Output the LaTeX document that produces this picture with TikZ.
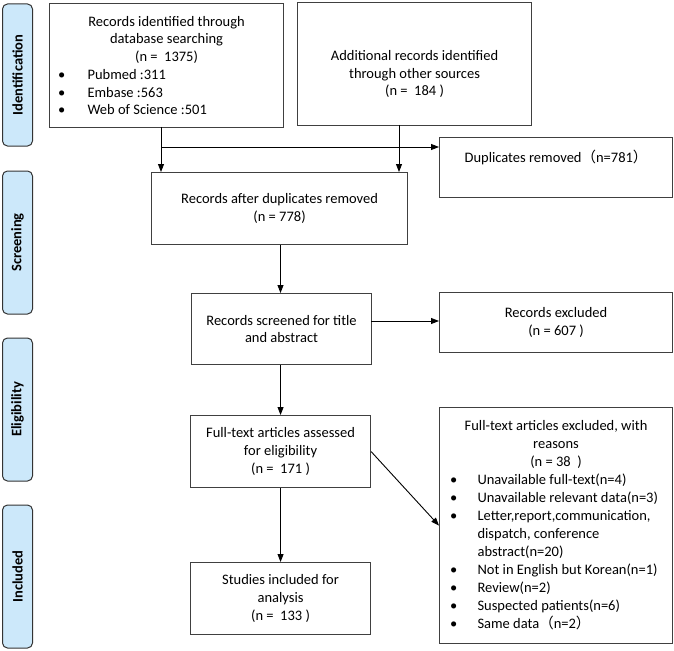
\documentclass[tikz,border=0pt]{standalone}
\usepackage{fontspec}
\setmainfont{Carlito}
\newfontfamily\cjk{Noto Sans CJK SC}
\usetikzlibrary{arrows.meta}
\newcommand\bul[3]{\makebox[#1][l]{\hspace*{#2}\makebox[\dimexpr38pt-#2\relax][l]{•}#3}}
\newcommand\cont[2]{\makebox[#1][l]{\hspace*{38pt}#2}}
\begin{document}
\begin{tikzpicture}[x=1pt,y=-1pt,
  every node/.style={font=\fontsize{14.5}{17.7}\selectfont},
  box/.style={draw=black!75, line width=1.1pt, inner sep=0pt, align=center, anchor=north west},
  side/.style={draw=black!80, line width=1pt, fill=cyan!12!blue!8!white, fill={rgb,255:red,204;green,232;blue,250}, rounded corners=5pt, rotate=90, minimum height=30pt, inner sep=0pt, font=\fontsize{14.5}{17.7}\selectfont\bfseries},
  arr/.style={draw=black, line width=0.9pt, -{Triangle[length=8pt,width=6pt]}}]
\useasboundingbox (0,0) rectangle (674,650);

% side labels
\node[side, minimum width=142pt] (sid) at (17.5,75) {Identification};
\node[side, minimum width=143pt] (sscr) at (17.5,242.5) {Screening};
\node[side, minimum width=143pt] (seli) at (17.5,409.5) {Eligibility};
\node[side, minimum width=143pt] (sinc) at (17.5,576.5) {Included};

% boxes
\node[box, minimum width=234pt, minimum height=124pt] (A) at (49,3)
 {Records identified through\\database searching\\(n =~ 1375)\\
  \bul{234pt}{8.5pt}{Pubmed :311}\\
  \bul{234pt}{8.5pt}{Embase :563}\\
  \bul{234pt}{8.5pt}{Web of Science :501}};
\node[box, minimum width=234pt, minimum height=123pt] (B) at (297,2)
 {\strut\\Additional records identified\\through other sources\\(n =~ 184 )};
\node[box, minimum width=233pt, minimum height=60pt] (dup) at (439,137)
 {Duplicates removed{\cjk （}n=781{\cjk ）}\\\strut};
\node[box, minimum width=256pt, minimum height=72pt] (after) at (151,172)
 {Records after duplicates removed\\(n = 778)};
\node[box, minimum width=180pt, minimum height=71pt] (scr) at (191,293)
 {Records screened for title\\and abstract};
\node[box, minimum width=233pt, minimum height=60pt] (excl) at (439,292)
 {Records excluded\\(n = 607 )};
\node[box, minimum width=180pt, minimum height=72pt] (full) at (190,415)
 {Full-text articles assessed\\for eligibility\\(n =~ 171 )};
\node[box, minimum width=233pt, minimum height=236pt, font=\fontsize{14.5}{18}\selectfont] (big) at (439,407)
 {Full-text articles excluded, with\\reasons\\(n = 38~ )\\
  \bul{233pt}{10.5pt}{Unavailable full-text(n=4)}\\
  \bul{233pt}{10.5pt}{Unavailable relevant data(n=3)}\\
  \bul{233pt}{10.5pt}{Letter,report,communication,}\\
  \cont{233pt}{dispatch, conference}\\
  \cont{233pt}{abstract(n=20)}\\
  \bul{233pt}{10.5pt}{Not in English but Korean(n=1)}\\
  \bul{233pt}{10.5pt}{Review(n=2)}\\
  \bul{233pt}{10.5pt}{Suspected patients(n=6)}\\
  \bul{233pt}{10.5pt}{Same data{\cjk （}n=2{\cjk ）}}};
\node[box, minimum width=180pt, minimum height=72pt] (stud) at (190,562)
 {Studies included for\\analysis\\(n =~ 133 )};

% connectors
\coordinate (a1) at (161,127);
\coordinate (j) at (161,147);
\coordinate (b1) at (399,125);
\coordinate (s1) at (371,321);
\draw[arr] (a1) -- (a1 |- after.north);
\draw[arr] (j) -- (j -| dup.west);
\draw[arr] (b1) -- (b1 |- after.north);
\draw[arr] (after.south -| 280.5,0) -- (scr.north -| 280.5,0);
\draw[arr] (s1) -- (s1 -| excl.west);
\draw[arr] (scr.south -| full.south) -- (full.north);
\draw[arr] (full.east) -- (big.west);
\draw[arr] (full.south) -- (stud.north);
\end{tikzpicture}
\end{document}
